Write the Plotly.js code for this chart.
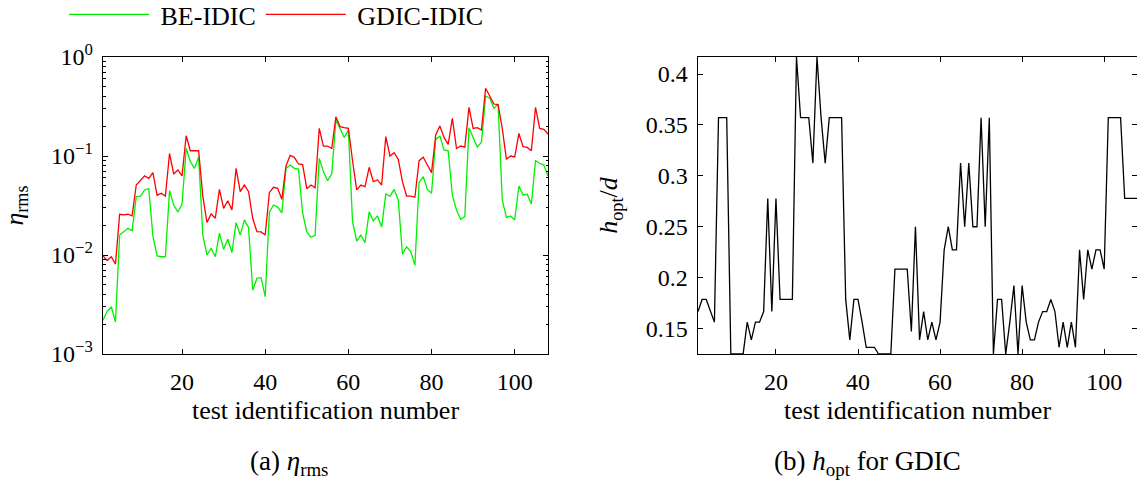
<!DOCTYPE html>
<html>
<head>
<meta charset="utf-8">
<script src="https://cdn.plot.ly/plotly-3.0.1.min.js"></script>
<style>
html,body{margin:0;padding:0;background:#fff;}
#chart{width:1137px;height:483px;}
#chart g.xtick text, #chart g.ytick text, #chart g.x2tick text, #chart g.y2tick text {
  font-family: "Liberation Serif", "Times New Roman", serif !important;
  font-size: 24px !important;
  fill: #000 !important;
}
</style>
</head>
<body>
<div id="chart"></div>
<script>
// test identification numbers
const testIds = [1,2,3,4,5,6,7,8,9,10,11,12,13,14,15,16,17,18,19,20,21,22,23,24,25,26,27,28,29,30,31,32,33,34,35,36,37,38,39,40,41,42,43,44,45,46,47,48,49,50,51,52,53,54,55,56,57,58,59,60,61,62,63,64,65,66,67,68,69,70,71,72,73,74,75,76,77,78,79,80,81,82,83,84,85,86,87,88,89,90,91,92,93,94,95,96,97,98,99,100,101,102,103,104,105,106,107,108];

// (a) eta_rms, BE-IDIC (green)
const beIdic = [0.0022,0.0027,0.0030,0.0021,0.0159,0.0172,0.0186,0.0176,0.0388,0.0394,
  0.0454,0.0468,0.0156,0.0098,0.0096,0.0096,0.0447,0.032,0.0272,0.0325,
  0.119,0.088,0.075,0.098,0.0159,0.010,0.0117,0.0096,0.0166,0.0114,
  0.0144,0.0106,0.0212,0.0159,0.0226,0.019,0.0044,0.0058,0.0059,0.0038,
  0.0271,0.032,0.0305,0.0266,0.0751,0.081,0.0751,0.0739,0.0264,0.0172,
  0.0151,0.0158,0.0947,0.0695,0.0563,0.0658,0.231,0.19,0.154,0.183,
  0.0217,0.0138,0.0159,0.0133,0.0274,0.022,0.0248,0.0192,0.0413,0.0394,
  0.046,0.036,0.0102,0.0121,0.0108,0.0079,0.0538,0.0618,0.046,0.042,
  0.147,0.159,0.115,0.113,0.040,0.0285,0.0229,0.0244,0.193,0.154,
  0.123,0.138,0.404,0.383,0.303,0.335,0.036,0.024,0.0248,0.0226,
  0.0498,0.0404,0.041,0.0327,0.0897,0.0844,0.081,0.0629];

// (a) eta_rms, GDIC-IDIC (red)
const gdicIdic = [0.0098,0.0088,0.0096,0.0081,0.0258,0.0254,0.0258,0.0248,0.0509,0.0573,
  0.0629,0.0595,0.0679,0.0401,0.042,0.0394,0.106,0.0658,0.0722,0.0629,
  0.160,0.113,0.113,0.113,0.0394,0.0213,0.026,0.0235,0.0461,0.0296,
  0.0353,0.0285,0.0751,0.0436,0.0509,0.0436,0.0235,0.0172,0.0171,0.0159,
  0.0426,0.0483,0.0471,0.0365,0.0793,0.1016,0.097,0.083,0.082,0.0468,
  0.0509,0.0478,0.1905,0.126,0.126,0.119,0.249,0.198,0.193,0.19,
  0.09,0.0454,0.0509,0.049,0.0769,0.055,0.0573,0.0509,0.157,0.1,
  0.108,0.0925,0.055,0.0394,0.0394,0.0383,0.0897,0.097,0.081,0.0679,
  0.163,0.201,0.154,0.131,0.24,0.119,0.126,0.123,0.31,0.19,
  0.193,0.183,0.483,0.4,0.335,0.33,0.19,0.0925,0.1,0.098,
  0.169,0.124,0.122,0.113,0.31,0.19,0.186,0.167];

// (b) h_opt / d for GDIC
const hOpt = [0.1667,0.1786,0.1786,0.1667,0.1563,0.3571,0.3571,0.3571,0.125,0.125,
  0.125,0.125,0.1563,0.1389,0.1563,0.1563,0.1667,0.2778,0.1667,0.2778,
  0.1786,0.1786,0.1786,0.1786,0.4167,0.3571,0.3571,0.3571,0.3125,0.4167,
  0.3571,0.3125,0.3571,0.3571,0.3571,0.3571,0.1786,0.1389,0.1786,0.1786,
  0.1563,0.1316,0.1316,0.1316,0.125,0.125,0.125,0.125,0.2083,0.2083,
  0.2083,0.2083,0.1471,0.25,0.1389,0.1667,0.1389,0.1563,0.1389,0.1563,
  0.2273,0.25,0.2273,0.2273,0.3125,0.25,0.3125,0.25,0.25,0.3571,
  0.25,0.3571,0.125,0.1786,0.1786,0.125,0.1563,0.1923,0.125,0.1923,
  0.1563,0.1389,0.1389,0.1563,0.1667,0.1667,0.1786,0.1667,0.1316,0.1563,
  0.1316,0.1563,0.1316,0.2273,0.1786,0.2273,0.2083,0.2273,0.2273,0.2083,
  0.3571,0.3571,0.3571,0.3571,0.2778,0.2778,0.2778,0.2778];

// tick labels
const xTickVals = [20, 40, 60, 80, 100];
const etaTickVals = [0.001, 0.01, 0.1, 1];
const etaTickText = ['10<sup>\u22123</sup>', '10<sup>\u22122</sup>', '10<sup>\u22121</sup>', '10<sup>0</sup>'];
const hTickVals = [0.15, 0.2, 0.25, 0.3, 0.35, 0.4];
const hTickText = ['0.15', '0.2', '0.25', '0.3', '0.35', '0.4'];
const seriesNames = ['\u00a0BE-IDIC', '\u00a0GDIC-IDIC'];

const FONT = '"Liberation Serif", "Times New Roman", serif';
const W = 1137, H = 483;
const px = v => v / W;
const py = v => 1 - v / H;

const traces = [
  {x: testIds, y: beIdic, type: 'scatter', mode: 'lines', name: seriesNames[0],
   line: {color: '#00f000', width: 1.3}, xaxis: 'x', yaxis: 'y'},
  {x: testIds, y: gdicIdic, type: 'scatter', mode: 'lines', name: seriesNames[1],
   line: {color: '#ff0000', width: 1.3}, xaxis: 'x', yaxis: 'y'},
  {x: testIds, y: hOpt, type: 'scatter', mode: 'lines', name: 'h_opt', showlegend: false,
   line: {color: '#000000', width: 1.3}, xaxis: 'x2', yaxis: 'y2'}
];

function ax(extra) {
  return Object.assign({
    showline: true, linecolor: '#000', linewidth: 1.4, mirror: 'ticks',
    ticks: 'inside', ticklen: 5, tickwidth: 1, tickcolor: '#000',
    showgrid: false, zeroline: false, ticklabelstandoff: 4,
    tickfont: {family: FONT, size: 24, color: '#000'}
  }, extra);
}

const layout = {
  width: W, height: H,
  margin: {l: 0, r: 0, t: 0, b: 0, autoexpand: false},
  paper_bgcolor: '#fff', plot_bgcolor: '#fff',
  font: {family: FONT, color: '#000', size: 24},
  showlegend: true,
  legend: {orientation: 'h', x: px(64), y: py(14.5), xanchor: 'left', yanchor: 'middle',
           font: {family: FONT, size: 26, color: '#000'}, itemwidth: 80, bgcolor: 'rgba(0,0,0,0)'},
  xaxis: ax({
    domain: [px(103), px(548)], range: [1, 108], tickmode: 'array', tickvals: xTickVals,
    anchor: 'y', ticklabelstandoff: 6,
    title: {text: 'test identification number', font: {family: FONT, size: 26, color: '#000'}, standoff: 6}
  }),
  yaxis: ax({
    domain: [py(354), py(57)], type: 'log', range: [-3, 0], tickmode: 'array',
    tickvals: etaTickVals, ticktext: etaTickText, anchor: 'x',
    minor: {ticks: 'inside', ticklen: 2.5, tickcolor: '#000', dtick: 'D1', showgrid: false},
    title: {text: '<i>\u03b7</i><sub>rms</sub>', font: {family: FONT, size: 26, color: '#000'}, standoff: 20}
  }),
  xaxis2: ax({
    domain: [px(698), 1], range: [1, 108], tickmode: 'array', tickvals: xTickVals,
    anchor: 'y2', ticklabelstandoff: 6,
    title: {text: 'test identification number', font: {family: FONT, size: 26, color: '#000'}, standoff: 6}
  }),
  yaxis2: ax({
    domain: [py(354), py(57)], range: [0.125, 0.4167], tickmode: 'array',
    tickvals: hTickVals, ticktext: hTickText, anchor: 'x2',
    title: {text: '<i>h</i><sub>opt</sub>/<i>d</i>', font: {family: FONT, size: 26, color: '#000'}, standoff: 20}
  }),
  annotations: [
    {xref: 'paper', yref: 'paper', x: px(289), y: py(463), xanchor: 'center', yanchor: 'middle',
     showarrow: false, text: '(a) <i>\u03b7</i><sub>rms</sub>', font: {family: FONT, size: 27, color: '#000'}},
    {xref: 'paper', yref: 'paper', x: px(867), y: py(463), xanchor: 'center', yanchor: 'middle',
     showarrow: false, text: '(b) <i>h</i><sub>opt</sub> for GDIC', font: {family: FONT, size: 27, color: '#000'}}
  ]
};

Plotly.newPlot('chart', traces, layout, {staticPlot: true, displayModeBar: false}).then(function (gd) {
  // make the tick label font explicit on each label element as well
  gd.querySelectorAll('g.xtick text, g.ytick text, g.x2tick text, g.y2tick text').forEach(function (t) {
    t.style.fontFamily = FONT;
    t.style.fontSize = '24px';
    t.style.fill = '#000';
  });
});
</script>
</body>
</html>
